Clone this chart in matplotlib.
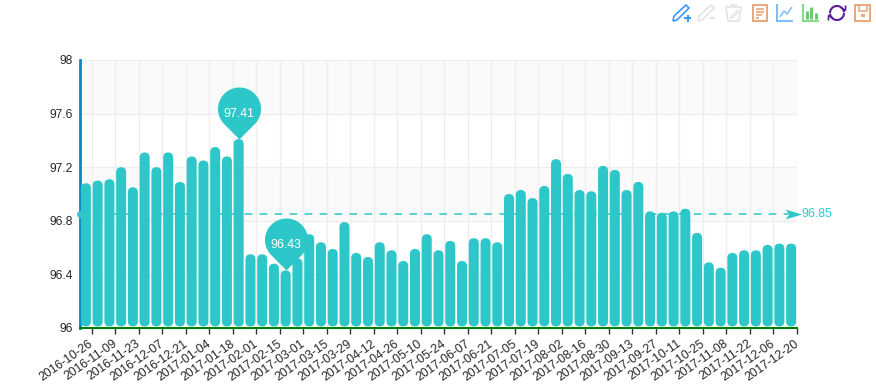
import numpy as np
import matplotlib
matplotlib.use("Agg")
import matplotlib.pyplot as plt
from matplotlib.patches import FancyBboxPatch, Rectangle
from matplotlib.path import Path
from matplotlib.transforms import ScaledTranslation

plt.rcParams['font.family'] = ['Liberation Sans', 'DejaVu Sans']

values = [97.08, 97.10, 97.11, 97.20, 97.05, 97.31, 97.20, 97.31, 97.09, 97.28,
          97.25, 97.35, 97.28, 97.41, 96.55, 96.55, 96.48, 96.43, 96.52, 96.70,
          96.64, 96.59, 96.79, 96.56, 96.53, 96.64, 96.58, 96.50, 96.59, 96.70,
          96.58, 96.65, 96.50, 96.67, 96.67, 96.64, 97.00, 97.03, 96.97, 97.06,
          97.26, 97.15, 97.03, 97.02, 97.21, 97.18, 97.03, 97.09, 96.87, 96.86,
          96.87, 96.89, 96.71, 96.49, 96.45, 96.56, 96.58, 96.58, 96.62, 96.63, 96.63]
tick_labels = ['2016-10-26', '2016-11-09', '2016-11-23', '2016-12-07', '2016-12-21',
               '2017-01-04', '2017-01-18', '2017-02-01', '2017-02-15', '2017-03-01',
               '2017-03-15', '2017-03-29', '2017-04-12', '2017-04-26', '2017-05-10',
               '2017-05-24', '2017-06-07', '2017-06-21', '2017-07-05', '2017-07-19',
               '2017-08-02', '2017-08-16', '2017-08-30', '2017-09-13', '2017-09-27',
               '2017-10-11', '2017-10-25', '2017-11-08', '2017-11-22', '2017-12-06',
               '2017-12-20']
y_ticks = [96, 96.4, 96.8, 97.2, 97.6, 98]
y_tick_labels = ['96', '96.4', '96.8', '97.2', '97.6', '98']
mean_value = 96.85
max_idx, min_idx = 13, 17

TEAL = '#2ec7c9'
W, H = 876, 388
fig = plt.figure(figsize=(W/100, H/100), dpi=100)
L, R, T, B = 80, 797, 60, 328
ax = fig.add_axes([L/W, 1-B/H, (R-L)/W, (B-T)/H])
x = np.arange(len(values))
ax.set_xlim(-0.5, len(values)-0.5)
ax.set_ylim(96, 98)

# alternating split areas
for i in range(len(y_ticks)-1):
    if i % 2 == 0:
        ax.add_patch(Rectangle((-0.5, y_ticks[i]), len(values), y_ticks[i+1]-y_ticks[i],
                               fc='#fafafa', ec='none', zorder=0))
ax.set_axisbelow(True)
tick_pos = x[::2] + 0.5
ax.set_xticks(tick_pos)
ax.set_xticklabels(tick_labels, rotation=35, ha='right', va='top', rotation_mode='anchor',
                   fontsize=8.8, color='#262626')
ax.set_yticks(y_ticks)
ax.set_yticklabels(y_tick_labels, fontsize=8.64, color='#262626')
ax.grid(True, color='#eeeeee', lw=1)
ax.tick_params(axis='x', length=4, width=1, color='#333333', pad=3)
ax.tick_params(axis='y', length=0, pad=5)
shift = ScaledTranslation(-3/100, 0, fig.dpi_scale_trans)
for lab in ax.get_xticklabels():
    lab.set_transform(lab.get_transform() + shift)
for s in ('top', 'right'):
    ax.spines[s].set_visible(False)
ax.spines['left'].set_color('#008acd'); ax.spines['left'].set_linewidth(2)
ax.spines['bottom'].set_color('#008000'); ax.spines['bottom'].set_linewidth(1.5)

px_x = (R-L)/len(values)
px_y = (B-T)/2
bw = 10/px_x
aspect = (1/px_y)/(1/px_x)
for xi, v in zip(x, values):
    ax.add_patch(FancyBboxPatch((xi-bw/2, 96.012), bw, v-96.012,
                                boxstyle=f"round,pad=0,rounding_size={bw/2}",
                                mutation_aspect=aspect, fc=TEAL, ec='none', zorder=3))

# mean line
ax.plot([-0.5, len(values)-0.5-0.5], [mean_value]*2, color=TEAL, lw=1.1, dashes=(5, 4.8), zorder=4, clip_on=False)
ax.plot([-0.5], [mean_value], 'o', color=TEAL, ms=4, zorder=4, clip_on=False)
ah = Path([(-12, 5), (4.5, 0), (-12, -5), (-8, 0), (-12, 5)], closed=True)
ax.plot([len(values)-0.5], [mean_value], marker=ah, ms=17.3, color=TEAL, mec='none', zorder=4, clip_on=False)
ax.annotate(f'{mean_value:.2f}', (len(values)-0.5, mean_value), xytext=(3.5, 0), textcoords='offset points',
            color=TEAL, fontsize=8.9, va='center', ha='left', annotation_clip=False)

# pins
r, d = 21.5, 30.5
a0 = np.arccos(r/d)
th = np.linspace(-np.pi/2+a0, 3*np.pi/2-a0, 60)
pv = np.vstack([[0, 0], np.c_[r*np.cos(th), d+r*np.sin(th)], [0, 0]])
pin = Path(pv, closed=True)
ms = 2*(d+r)*0.72
for i in (max_idx, min_idx):
    ax.plot([i], [values[i]], marker=pin, ms=ms, color=TEAL, mec='none', zorder=5, clip_on=False)
    ax.annotate(f'{values[i]:.2f}', (i, values[i]), xytext=(0, 25*0.72), textcoords='offset points',
                color='white', fontsize=8.9, ha='center', va='center', zorder=6)

# toolbar icons, drawn in pixel coordinates
tb = fig.add_axes([0, 0, 1, 1], facecolor='none')
tb.set_xlim(0, W); tb.set_ylim(H, 0); tb.axis('off')
def ln(xs, ys, c, lw=1.1):
    tb.plot(xs, ys, color=c, lw=lw, solid_capstyle='butt', solid_joinstyle='miter')
BL = '#3e98fe'; GY = '#e4e4e4'; OR = '#e8a77c'; LB = '#7cbcff'; GR = '#86dc8c'; PU = '#5b1c99'
# pen +
ln([674, 686, 689, 677, 673, 674], [16, 5, 8, 20, 21, 16], BL, 1.2)
ln([684, 691], [18, 18], BL, 1.5); ln([687.5, 687.5], [14.5, 21.5], BL, 1.5)
# pen -
ln([699, 711, 714, 702, 698, 699], [16, 5, 8, 20, 21, 16], GY, 1.2)
ln([709, 715], [17.5, 17.5], GY, 1.5)
# trash
ln([725, 742], [7, 7], GY, 1.2); ln([730, 737], [5, 5], GY, 1.2)
ln([726, 728, 739, 741], [7, 21, 21, 7], GY, 1.2)
ln([730, 738, 738, 732, 730], [18, 10, 13, 18, 18], GY, 1.0)
# data view
tb.add_patch(Rectangle((752.5, 5), 14, 15.5, fc='none', ec=OR, lw=1.4))
for y0, x1 in ((9, 764), (12, 764), (15, 762), (17.5, 759)):
    ln([755.5, x1], [y0, y0], OR, 1.2)
# line
ln([777, 777, 793], [4, 20.5, 20.5], LB, 1.5)
ln([780, 784, 787, 792], [17, 11, 14, 7], LB, 1.1)
# bar
ln([802.5, 802.5, 819], [4, 20.5, 20.5], GR, 1.5)
for bx, top in ((806.5, 11), (811, 7), (815.5, 13)):
    ln([bx, bx], [top, 18.5], '#5ccc64', 2)
# restore
t = np.linspace(0.15, 2.9, 40)
tb.plot(837+7*np.cos(t), 13+7*np.sin(t), color=PU, lw=1.5)
tb.plot(837+7*np.cos(t+np.pi), 13+7*np.sin(t+np.pi), color=PU, lw=1.5)
ln([841, 845.5, 845.5], [8, 10.5, 5.5], PU, 1.2)
ln([833, 828.5, 828.5], [18, 15.5, 20.5], PU, 1.2)
# save
tb.add_patch(Rectangle((855, 5), 15, 15.5, fc='none', ec=OR, lw=1.4))
ln([858.5, 858.5, 866.5, 866.5], [5, 11, 11, 5], OR, 1.1)
tb.add_patch(Rectangle((861, 14), 3.5, 3, fc=OR, ec='none'))

fig.savefig('out.png', dpi=100)
